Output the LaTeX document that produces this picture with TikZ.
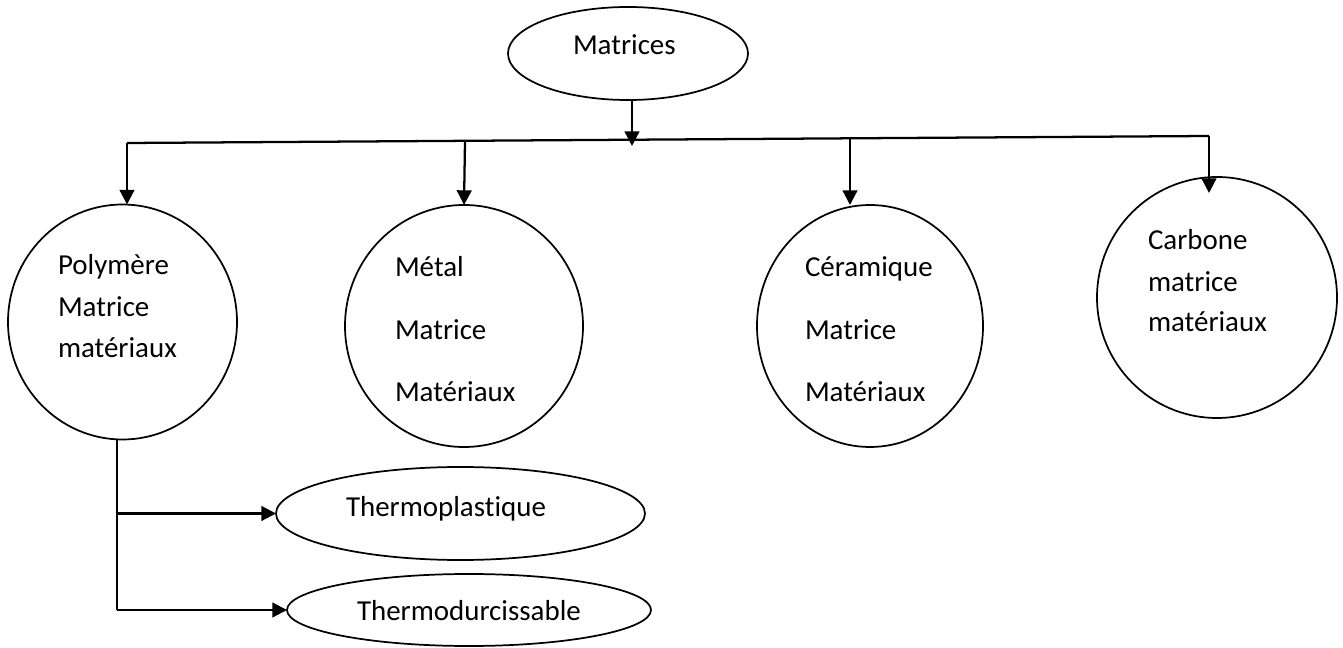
\documentclass[tikz,border=0pt]{standalone}
\usepackage{fontspec}
\setmainfont{Carlito}[Ligatures=NoCommon]
\usetikzlibrary{shapes.geometric,arrows.meta,calc}

\begin{document}
\begin{tikzpicture}[
    x=0.75pt, y=-0.75pt,
    shape outline/.style={draw, line width=1.3pt, ellipse, inner sep=0pt, outer sep=0pt},
    label text/.style={anchor=base west, inner sep=0pt, outer sep=0pt,
                       font=\fontsize{21.7}{26}\selectfont},
    arr/.style={line width=1.7pt, -{Triangle[length=11pt,width=11pt]}},
    bus/.style={line width=1.7pt},
    trunk/.style={line width=1.5pt}
  ]
  \useasboundingbox (0,0) rectangle (1343,648);

  % root
  \node[shape outline, minimum width=180pt, minimum height=69.75pt] (mat) at (628,53.5) {};
  \node[label text] (matT) at (573,55) {Matrices};

  % four matrix families
  \node[shape outline, minimum width=171.75pt, minimum height=176.25pt] (poly)  at (122.5,322) {};
  \node[shape outline, minimum width=178.5pt,  minimum height=181.5pt]  (metal) at (464,326) {};
  \node[shape outline, minimum width=169.5pt,  minimum height=181.5pt]  (ceram) at (870,326) {};
  \node[shape outline, minimum width=180pt,    minimum height=180.75pt] (carb)  at (1217,297.5) {};

  \node[label text] (polyA) at (58,275) {Polymère};
  \node[label text] (polyB) at (58,317) {Matrice};
  \node[label text] (polyC) at (58,358) {matériaux};

  \node[label text] (metalA) at (395,277) {Métal};
  \node[label text] (metalB) at (395,340) {Matrice};
  \node[label text] (metalC) at (395,402) {Matériaux};

  \node[label text] (ceramA) at (805,277) {Céramique};
  \node[label text] (ceramB) at (805,340) {Matrice};
  \node[label text] (ceramC) at (805,402) {Matériaux};

  \node[label text] (carbA) at (1148,250) {Carbone};
  \node[label text] (carbB) at (1148,292) {matrice};
  \node[label text] (carbC) at (1148,332) {matériaux};

  % polymer sub-types
  \node[shape outline, minimum width=276.75pt, minimum height=69.75pt] (thp) at (460.5,513.5) {};
  \node[label text] (thpT) at (346,517) {Thermoplastique};
  \node[shape outline, minimum width=273pt, minimum height=54pt] (thd) at (469,610) {};
  \node[label text] (thdT) at (357,620) {Thermodurcissable};

  % distribution bus
  \coordinate (busL) at (127,143);
  \coordinate (busR) at (1209,136);
  \coordinate (jm) at (465,142);
  \coordinate (jc) at (850,137.5);
  \coordinate (mtip) at (632,146);

  \draw[arr] (mat.south -| mtip) -- (mtip);
  \draw[bus] (busL) -- (busR);
  \draw[arr] (busL) -- (busL |- poly.north);
  \draw[arr] (jm) -- (metal.north);
  \draw[arr] (jc) -- (jc |- ceram.north);
  \draw[arr] (busR) -- ($(busR |- carb.north)+(0,16)$);

  % polymer branch
  \coordinate (trunkTop) at (117,440);
  \coordinate (trunkMid) at (117,513.5);
  \coordinate (trunkBot) at (117,610);
  \draw[trunk] (trunkTop) -- (trunkBot);
  \draw[arr] (trunkMid) -- (thp.west);
  \draw[arr] (trunkBot) -- (thd.west);
\end{tikzpicture}
\end{document}
